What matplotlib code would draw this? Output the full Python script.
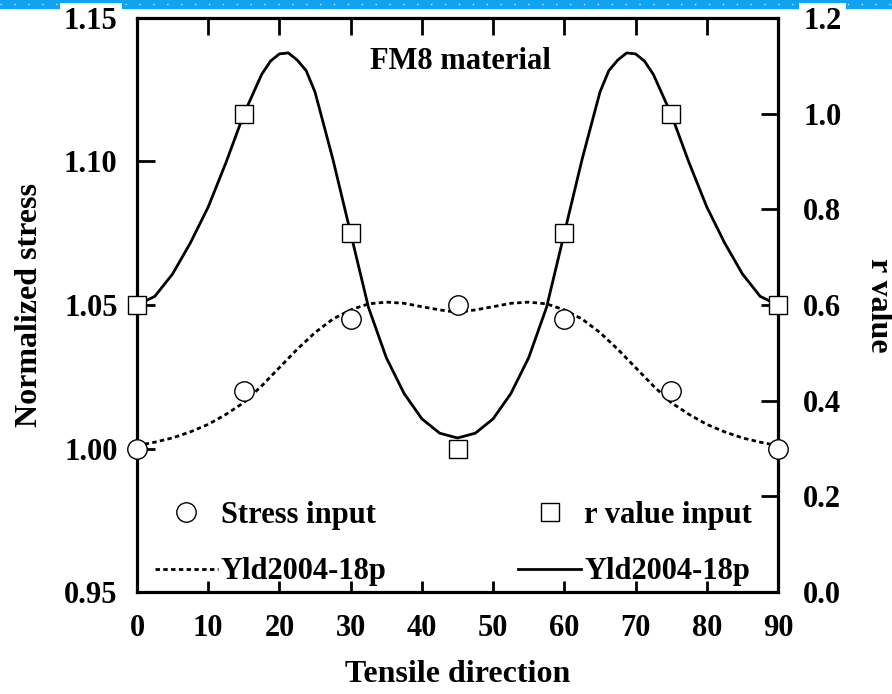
import numpy as np
import matplotlib
matplotlib.use('Agg')
import matplotlib.pyplot as plt
from matplotlib.patches import Rectangle

# measured input points
angle_pts = [0, 15, 30, 45, 60, 75, 90]
stress_pts = [1.000, 1.020, 1.045, 1.050, 1.045, 1.020, 1.000]
r_pts = [0.60, 1.00, 0.75, 0.30, 0.75, 1.00, 0.60]

# Yld2004-18p prediction, normalized stress
angle_s = [0, 2.5, 5, 7.5, 10, 12.5, 15, 17.5, 20, 22.5, 25, 27.5, 30, 32.5,
           35, 37.5, 40, 42.5, 45, 47.5, 50, 52.5, 55, 57.5, 60, 62.5, 65,
           67.5, 70, 72.5, 75, 77.5, 80, 82.5, 85, 87.5, 90]
stress_fit = [1.0010, 1.0022, 1.0037, 1.0058, 1.0084, 1.0119, 1.0160, 1.0218,
              1.0282, 1.0346, 1.0404, 1.0451, 1.0483, 1.0504, 1.0510, 1.0506,
              1.0494, 1.0483, 1.0474, 1.0483, 1.0494, 1.0506, 1.0510, 1.0504,
              1.0483, 1.0451, 1.0404, 1.0346, 1.0282, 1.0218, 1.0160, 1.0119,
              1.0084, 1.0058, 1.0037, 1.0022, 1.0010]

# Yld2004-18p prediction, r value
angle_r = [0, 2.5, 5, 7.5, 10, 12.5, 15, 17.5, 18.75, 20, 21.25, 22.5, 23.75,
           25, 27.5, 30, 32.5, 35, 37.5, 40, 42.5, 45, 47.5, 50, 52.5, 55,
           57.5, 60, 62.5, 65, 66.25, 67.5, 68.75, 70, 71.25, 72.5, 75, 77.5,
           80, 82.5, 85, 87.5, 90]
r_fit = [0.600, 0.618, 0.665, 0.730, 0.805, 0.898, 0.999, 1.082, 1.110, 1.125,
         1.127, 1.112, 1.090, 1.045, 0.905, 0.750, 0.595, 0.490, 0.415, 0.362,
         0.332, 0.322, 0.332, 0.362, 0.415, 0.490, 0.595, 0.750, 0.905, 1.045,
         1.090, 1.112, 1.127, 1.125, 1.110, 1.082, 0.999, 0.898, 0.805, 0.730,
         0.665, 0.618, 0.600]

plt.rcParams['font.family'] = ['Liberation Serif', 'DejaVu Serif']
plt.rcParams['font.weight'] = 'bold'
plt.rcParams['axes.labelweight'] = 'bold'

fig = plt.figure(figsize=(8.92, 6.94), dpi=100)
ax = fig.add_axes([137/892, 102/694, 641/892, 574/694])
ax2 = ax.twinx()

dots = (0, (1.6, 1.2))

# stress on the left axis
ax.plot(angle_s, stress_fit, color='k', lw=2.0, ls=dots, zorder=3)
ax.plot(angle_pts, stress_pts, 'o', ms=14, mfc='white', mec='k', mew=1.0,
        clip_on=False, zorder=5)
ax.set_xlim(0, 90)
ax.set_ylim(0.95, 1.15)
ax.set_xticks(np.arange(0, 91, 10))
ax.set_yticks([0.95, 1.00, 1.05, 1.10, 1.15])
ax.set_yticklabels(['0.95', '1.00', '1.05', '1.10', '1.15'])

# r value on the right axis
ax2.plot(angle_r, r_fit, color='k', lw=2.0, zorder=3)
ax2.plot(angle_pts, r_pts, 's', ms=13, mfc='white', mec='k', mew=1.0,
         clip_on=False, zorder=5)
ax2.set_ylim(0, 1.2)
ax2.set_yticks(np.arange(0, 1.21, 0.2))
ax2.set_yticklabels(['0.0', '0.2', '0.4', '0.6', '0.8', '1.0', '1.2'])

for s in ax.spines.values():
    s.set_linewidth(2.3)
for s in ax2.spines.values():
    s.set_visible(False)

ax.tick_params(axis='x', bottom=True, top=False, direction='in', length=8,
               width=2, labelsize=22, pad=16)
ax.tick_params(axis='y', left=True, right=False, direction='in', length=13,
               width=2, labelsize=22, pad=14)
ax2.xaxis.set_visible(True)
ax2.tick_params(axis='x', bottom=False, top=True, labelbottom=False,
                labeltop=False, direction='in', length=12.5, width=2)
ax2.tick_params(axis='y', right=True, direction='in', length=12.5, width=2,
                labelsize=22, pad=18)

ax.set_xlabel('Tensile direction', fontsize=23, labelpad=12)
ax.set_ylabel('Normalized stress', fontsize=23, labelpad=14)
ax2.set_ylabel('r value', fontsize=23, rotation=270, labelpad=37)

ax.text(0.505, 0.925, 'FM8 material', transform=ax.transAxes, ha='center',
        va='center', fontsize=22)

h1, = ax.plot([], [], 'o', ms=14, mfc='white', mec='k', mew=1.0)
h2, = ax.plot([], [], color='k', lw=2.0, ls=dots)
h3, = ax.plot([], [], 's', ms=13, mfc='white', mec='k', mew=1.0)
h4, = ax.plot([], [], color='k', lw=2.0)
ax2.legend([h1, h2, h3, h4],
           ['Stress input', 'Yld2004-18p', 'r value input', 'Yld2004-18p'],
           ncol=2, frameon=False, loc='lower left',
           bbox_to_anchor=(0.028, 0.01), borderaxespad=0, borderpad=0,
           fontsize=22, handlelength=2.06, handletextpad=0.1,
           columnspacing=4.3, labelspacing=0.9)

# header strip along the top edge
fig.add_artist(Rectangle((0, 1 - 8/694), 1, 8/694, transform=fig.transFigure,
                         color='#12a2f2', zorder=-1))
fig.add_artist(plt.Line2D([0, 1], [1 - 4/694, 1 - 4/694],
                          transform=fig.transFigure, color='#bfe6ff', lw=1,
                          ls=(0, (1, 9)), zorder=-1))
for lab in [ax.get_yticklabels()[-1], ax2.get_yticklabels()[-1]]:
    lab.set_bbox(dict(fc='white', ec='none', pad=3))

fig.savefig('out.png', dpi=100)
